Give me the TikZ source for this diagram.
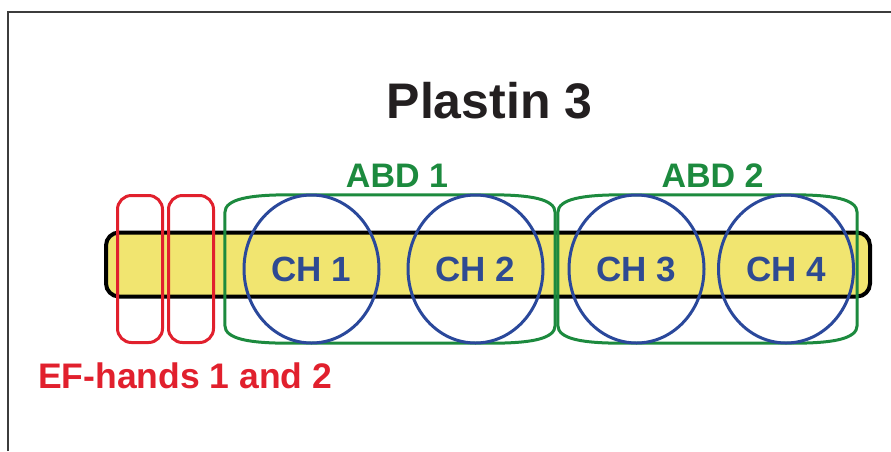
\documentclass[tikz,border=0pt]{standalone}
\usepackage{fontspec}
\setmainfont{Liberation Sans}
\usetikzlibrary{shapes.geometric,calc}

\definecolor{barfill}{RGB}{241,229,112}
\definecolor{efred}{RGB}{225,32,45}
\definecolor{abdgreen}{RGB}{28,138,62}
\definecolor{chblue}{RGB}{42,72,155}
\definecolor{chtext}{RGB}{46,74,146}
\definecolor{titlegray}{RGB}{35,31,32}
\definecolor{framegray}{RGB}{60,60,60}

\tikzset{
  domainbar/.style={draw=black, line width=4pt, fill=barfill, rounded corners=13pt,
    minimum width=764pt, minimum height=64pt, inner sep=0pt},
  efhand/.style={draw=efred, line width=3pt, rounded corners=14pt,
    minimum width=45pt, minimum height=147pt, inner sep=0pt},
  chdomain/.style={draw=chblue, line width=3pt, ellipse, minimum width=135pt,
    minimum height=148pt, inner sep=0pt, text=chtext,
    font=\fontsize{35}{35}\selectfont\bfseries},
  abdspan/.style={minimum height=148pt, inner sep=0pt},
  abdline/.style={draw=abdgreen, line width=3pt},
  abdlabel/.style={text=abdgreen, font=\fontsize{34}{34}\selectfont\bfseries, inner sep=0pt},
}

% outline of an actin-binding domain around a named span node
\newcommand\abdoutline[1]{%
  \draw[abdline]
    ($(#1.north west)+(0,18)$)
      .. controls ($(#1.north west)+(0,4)$) and ($(#1.north west)+(25,0)$) .. ($(#1.north west)+(65,0)$)
      -- ($(#1.north east)+(-65,0)$)
      .. controls ($(#1.north east)+(-25,0)$) and ($(#1.north east)+(0,4)$) .. ($(#1.north east)+(0,18)$)
      -- ($(#1.south east)+(0,-18)$)
      .. controls ($(#1.south east)+(0,-4)$) and ($(#1.south east)+(-25,0)$) .. ($(#1.south east)+(-65,0)$)
      -- ($(#1.south west)+(65,0)$)
      .. controls ($(#1.south west)+(25,0)$) and ($(#1.south west)+(0,-4)$) .. ($(#1.south west)+(0,-18)$)
      -- cycle;}

\begin{document}
\begin{tikzpicture}[x=1pt,y=-1pt]
  \useasboundingbox (0,0) rectangle (891,451);

  % page frame
  \draw[framegray, line width=2.5pt] (8,451) coordinate (fb) -- (8,12) coordinate (fc) -- (891,12) coordinate (fr);

  % title
  \node[text=titlegray, font=\fontsize{50}{50}\selectfont\bfseries, inner sep=0pt, anchor=base]
    (title) at (489.5,118) {Plastin 3};

  % protein backbone
  \node[domainbar] (bar) at (488,264.5) {};

  % EF-hand motifs
  \node[efhand] (ef1) at (140,269) {};
  \node[efhand] (ef2) at (191,269) {};
  \node[text=efred, font=\fontsize{35.5}{35.5}\selectfont\bfseries, inner sep=0pt, anchor=base west]
    (eflabel) at (38,388) {EF-hands 1 and 2};

  % actin-binding domains
  \node[abdspan, minimum width=330pt] (abd1) at (390,269) {};
  \node[abdspan, minimum width=299pt] (abd2) at (707.5,269) {};
  \abdoutline{abd1}
  \abdoutline{abd2}
  \node[abdlabel, anchor=base] (abd1label) at (397,187) {ABD 1};
  \node[abdlabel, anchor=base] (abd2label) at (712.5,187) {ABD 2};

  % calponin-homology domains
  \node[chdomain] (ch1) at (311.5,269) {CH 1};
  \node[chdomain] (ch2) at (475.5,269) {CH 2};
  \node[chdomain] (ch3) at (636.5,269) {CH 3};
  \node[chdomain] (ch4) at (786,269) {CH 4};
\end{tikzpicture}
\end{document}
